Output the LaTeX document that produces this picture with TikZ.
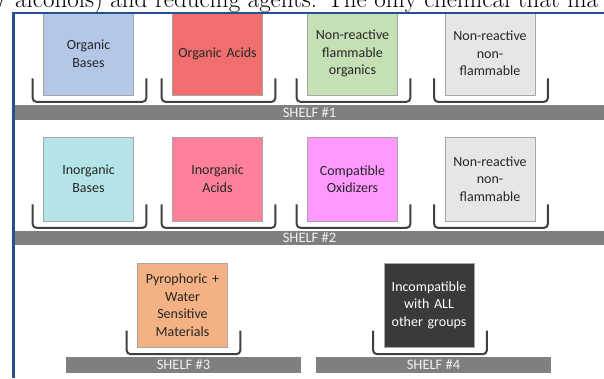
\documentclass[tikz,border=0pt]{standalone}
\usepackage{fontspec}
\setmainfont{Carlito}
\newfontfamily\serifbody{Latin Modern Roman}
\definecolor{frameblue}{HTML}{23508F}
\definecolor{barfill}{HTML}{7F7F7F}
\definecolor{bartext}{HTML}{F2F2F2}
\definecolor{brkcol}{HTML}{3F3F3F}
\definecolor{boxline}{HTML}{A6A6A6}
\definecolor{txtdark}{HTML}{262626}
\definecolor{cOrgBase}{HTML}{B4C7E7}
\definecolor{cOrgAcid}{HTML}{F06E6E}
\definecolor{cFlam}{HTML}{C5E0B4}
\definecolor{cNonFlam}{HTML}{E7E6E6}
\definecolor{cInBase}{HTML}{B4E4E8}
\definecolor{cInAcid}{HTML}{FF8099}
\definecolor{cOxid}{HTML}{FF99FF}
\definecolor{cPyro}{HTML}{F4B183}
\definecolor{cIncomp}{HTML}{3A3A3A}
\tikzset{
  chembox/.style={draw=boxline, line width=0.8pt, inner sep=0pt, minimum width=90pt,
    align=center, text width=88pt, text=txtdark,
    font=\fontsize{14}{17.6}\selectfont},
  shelfbar/.style={fill=barfill, draw=none, inner sep=0pt, text=bartext,
    font=\fontsize{14.5}{15}\selectfont},
  brk/.style={draw=brkcol, line width=2pt, rounded corners=4pt},
}
\newcommand{\shelfbracket}[1]{%
  \draw[brk] ([shift={(-10.5,-17)}]#1.south west) -- ([shift={(-10.5,6.5)}]#1.south west)
    -- ([shift={(12.5,6.5)}]#1.south east) -- ([shift={(12.5,-17)}]#1.south east);}
\begin{document}
\begin{tikzpicture}[x=1pt,y=-1pt]
\useasboundingbox (0,0) rectangle (604,378);
\clip (0,0) rectangle (604,378);
\fill[white] (0,0) rectangle (604,378);
% cropped line of body text above the frame
\node[anchor=base west, inner sep=0pt, font=\serifbody\fontsize{25}{27}\selectfont] (bodytext) at (-4,7)
  {/ alcohols) and reducing agents. The only chemical that ma};
% shelf 1
\node[chembox, fill=cOrgBase, minimum height=83pt] (b11) at (88.5,53.5) {Organic\\Bases};
\node[chembox, fill=cOrgAcid, minimum height=83pt] (b12) at (217.5,53.5) {Organic Acids};
\node[chembox, fill=cFlam, minimum height=83pt] (b13) at (352.5,53.5) {Non-reactive\\flammable\\organics};
\node[chembox, fill=cNonFlam, minimum height=83pt] (b14) at (490,53.5) {Non-reactive\\non-\\flammable};
\shelfbracket{b11}\shelfbracket{b12}\shelfbracket{b13}\shelfbracket{b14}
\node[shelfbar, minimum width=590pt, minimum height=15pt] (s1) at (309.5,112.5) {SHELF \#1};
% shelf 2
\node[chembox, fill=cInBase, minimum height=84pt] (b21) at (88.5,179) {Inorganic\\Bases};
\node[chembox, fill=cInAcid, minimum height=84pt] (b22) at (217.5,179) {Inorganic\\Acids};
\node[chembox, fill=cOxid, minimum height=84pt] (b23) at (352.5,179) {Compatible\\Oxidizers};
\node[chembox, fill=cNonFlam, minimum height=84pt] (b24) at (490,179) {Non-reactive\\non-\\flammable};
\shelfbracket{b21}\shelfbracket{b22}\shelfbracket{b23}\shelfbracket{b24}
\node[shelfbar, minimum width=590pt, minimum height=14pt] (s2) at (309.5,238) {SHELF \#2};
% shelf 3 and 4
\node[chembox, fill=cPyro, minimum height=84pt] (b31) at (182.5,305.3) {Pyrophoric +\\Water\\Sensitive\\Materials};
\node[chembox, fill=cIncomp, text=white, minimum height=84pt] (b41) at (429,305.3) {Incompatible\\with ALL\\other groups};
\shelfbracket{b31}\shelfbracket{b41}
\node[shelfbar, minimum width=235pt, minimum height=16pt] (s3) at (183.5,365) {SHELF \#3};
\node[shelfbar, minimum width=235pt, minimum height=16pt] (s4) at (433.5,365) {SHELF \#4};
% frame
\draw[frameblue, line width=2pt] (12,13.2) -- (604,13.2);
\draw[frameblue, line width=3pt] (13.5,12.2) -- (13.5,378);
\end{tikzpicture}
\end{document}
